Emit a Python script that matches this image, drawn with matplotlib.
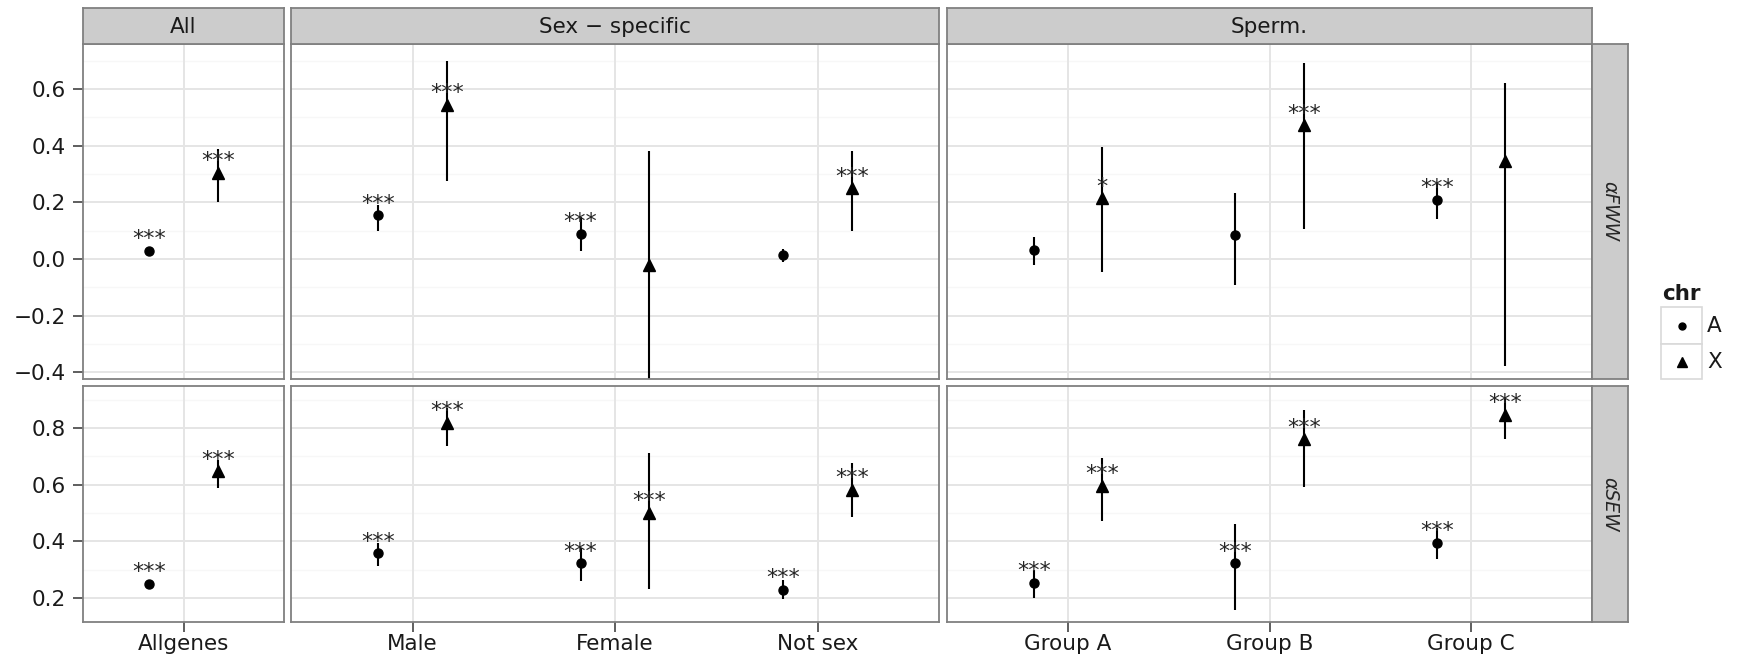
import matplotlib
matplotlib.use("Agg")
import matplotlib.pyplot as plt
from matplotlib.patches import Rectangle
import numpy as np

# ---------------- data ----------------
col_titles = ["All", "Sex \u2212 specific", "Sperm."]
row_titles = ["\u03b1FWW", "\u03b1SEW"]
categories = [["Allgenes"], ["Male", "Female", "Not sex"], ["Group A", "Group B", "Group C"]]
chr_levels = ["A", "X"]

# alpha FWW  (per column group, per category)
fww_A_est = [[0.030], [0.155, 0.090, 0.015], [0.033, 0.085, 0.208]]
fww_A_lo  = [[0.020], [0.100, 0.030, -0.010], [-0.020, -0.093, 0.140]]
fww_A_hi  = [[0.040], [0.190, 0.150, 0.035], [0.078, 0.233, 0.268]]
fww_A_sig = [["***"], ["***", "***", ""], ["", "", "***"]]
fww_X_est = [[0.305], [0.545, -0.020, 0.250], [0.215, 0.472, 0.347]]
fww_X_lo  = [[0.200], [0.275, -0.600, 0.100], [-0.045, 0.105, -0.376]]
fww_X_hi  = [[0.390], [0.700, 0.380, 0.380], [0.395, 0.692, 0.620]]
fww_X_sig = [["***"], ["***", "", "***"], ["*", "***", ""]]

# alpha SEW
sew_A_est = [[0.249], [0.358, 0.322, 0.228], [0.254, 0.322, 0.394]]
sew_A_lo  = [[0.235], [0.313, 0.260, 0.195], [0.200, 0.156, 0.338]]
sew_A_hi  = [[0.265], [0.393, 0.375, 0.262], [0.300, 0.460, 0.446]]
sew_A_sig = [["***"], ["***", "***", "***"], ["***", "***", "***"]]
sew_X_est = [[0.647], [0.818, 0.500, 0.583], [0.597, 0.761, 0.847]]
sew_X_lo  = [[0.587], [0.738, 0.230, 0.485], [0.472, 0.591, 0.762]]
sew_X_hi  = [[0.688], [0.870, 0.713, 0.678], [0.694, 0.865, 0.910]]
sew_X_sig = [["***"], ["***", "***", "***"], ["***", "***", "***"]]

row_data = [
    {"A": (fww_A_est, fww_A_lo, fww_A_hi, fww_A_sig), "X": (fww_X_est, fww_X_lo, fww_X_hi, fww_X_sig)},
    {"A": (sew_A_est, sew_A_lo, sew_A_hi, sew_A_sig), "X": (sew_X_est, sew_X_lo, sew_X_hi, sew_X_sig)},
]
row_ylim = [(-0.423, 0.759), (0.115, 0.949)]
row_yticks = [[-0.4, -0.2, 0.0, 0.2, 0.4, 0.6], [0.2, 0.4, 0.6, 0.8]]
row_yminor = [[-0.3, -0.1, 0.1, 0.3, 0.5, 0.7], [0.3, 0.5, 0.7, 0.9]]

# ---------------- style ----------------
W, H, DPI = 1739, 655, 100
FONT = ["DejaVu Sans"]
plt.rcParams["font.family"] = FONT
FS = 15.5
BORDER = "#808080"
STRIP = "#CCCCCC"
GRID_MAJ = "#E5E5E5"
GRID_MIN = "#F7F7F7"
TXT = "#1a1a1a"

fig = plt.figure(figsize=(W / DPI, H / DPI), dpi=DPI)

def fbox(x0, y0, x1, y1):
    return [x0 / W, 1 - y1 / H, (x1 - x0) / W, (y1 - y0) / H]

col_px = [(83, 284), (291, 939), (947, 1592)]
row_px = [(44, 379), (386, 622)]
strip_top = (8, 44)
strip_right = (1592, 1628)
dodge = 0.17
marker = {"A": "o", "X": "^"}
msize = {"A": 6.5, "X": 9.0}

for r in range(2):
    for c in range(3):
        ax = fig.add_axes(fbox(col_px[c][0], row_px[r][0], col_px[c][1], row_px[r][1]))
        n = len(categories[c])
        xs = np.arange(n)
        if n == 1:
            ax.set_xlim(-0.495, 0.495)
        else:
            ax.set_xlim(-0.6, n - 0.4)
        ax.set_ylim(*row_ylim[r])
        ax.set_facecolor("white")
        # grid
        for v in row_yminor[r]:
            ax.axhline(v, color=GRID_MIN, lw=1.0, zorder=0)
        for v in row_yticks[r]:
            ax.axhline(v, color=GRID_MAJ, lw=1.4, zorder=0)
        for xv in xs:
            ax.axvline(xv, color=GRID_MAJ, lw=1.4, zorder=0)
        # data
        for k, ch in enumerate(chr_levels):
            est, lo, hi, sig = row_data[r][ch]
            off = -dodge if ch == "A" else dodge
            xx = xs + off
            ax.vlines(xx, lo[c], hi[c], color="black", lw=1.5, zorder=2)
            ax.plot(xx, est[c], linestyle="none", marker=marker[ch], ms=msize[ch],
                    color="black", zorder=3)
            for xi, yi, s in zip(xx, est[c], sig[c]):
                if s:
                    ax.text(xi, yi + 0.020, s, ha="center", va="baseline", fontsize=FS + 0.5,
                            color="#262626", zorder=4)
        # axes styling
        for sp in ax.spines.values():
            sp.set_color(BORDER)
            sp.set_linewidth(1.3)
        ax.tick_params(length=7, width=1.1, color="#333333", labelsize=FS, labelcolor=TXT,
                       pad=5.5)
        if c == 0:
            ax.set_yticks(row_yticks[r])
            ax.set_yticklabels(["%.1f" % v if v >= 0 else "\u2212%.1f" % (-v) for v in row_yticks[r]])
        else:
            ax.set_yticks([])
        if r == 1:
            ax.set_xticks(xs)
            ax.set_xticklabels(categories[c])
            ax.tick_params(axis="x", pad=2)
        else:
            ax.set_xticks([])
        ax.minorticks_off()

        # top strips
        if r == 0:
            sax = fig.add_axes(fbox(col_px[c][0], strip_top[0], col_px[c][1], strip_top[1]))
            sax.set_facecolor(STRIP)
            sax.set_xticks([]); sax.set_yticks([])
            for sp in sax.spines.values():
                sp.set_color(BORDER); sp.set_linewidth(1.3)
            sax.text(0.5, 0.47, col_titles[c], ha="center", va="center", fontsize=FS,
                     color=TXT, transform=sax.transAxes)
    # right strips
    rax = fig.add_axes(fbox(strip_right[0], row_px[r][0], strip_right[1], row_px[r][1]))
    rax.set_facecolor(STRIP)
    rax.set_xticks([]); rax.set_yticks([])
    for sp in rax.spines.values():
        sp.set_color(BORDER); sp.set_linewidth(1.3)
    rax.text(0.5, 0.5, row_titles[r], ha="center", va="center", rotation=-90,
             fontsize=FS - 2, color="#262626", style="italic", transform=rax.transAxes)

# ---------------- legend ----------------
lax = fig.add_axes([0, 0, 1, 1], facecolor="none")
lax.set_xlim(0, W); lax.set_ylim(H, 0)
lax.axis("off")
lax.text(1662, 294, "chr", fontsize=FS, fontweight="bold", ha="left", va="center", color=TXT)
key_y = [(307, 344), (344, 379)]
for (y0, y1), ch in zip(key_y, chr_levels):
    lax.add_patch(Rectangle((1661, y0), 41, y1 - y0, facecolor="white", edgecolor="#D9D9D9", lw=1.2))
    lax.plot([1681.5], [(y0 + y1) / 2], linestyle="none", marker=marker[ch],
             ms=msize[ch] - 1.5, color="black")
    lax.text(1707, (y0 + y1) / 2 + 1, ch, fontsize=FS, ha="left", va="center", color=TXT)

fig.savefig("out.png", dpi=DPI)
